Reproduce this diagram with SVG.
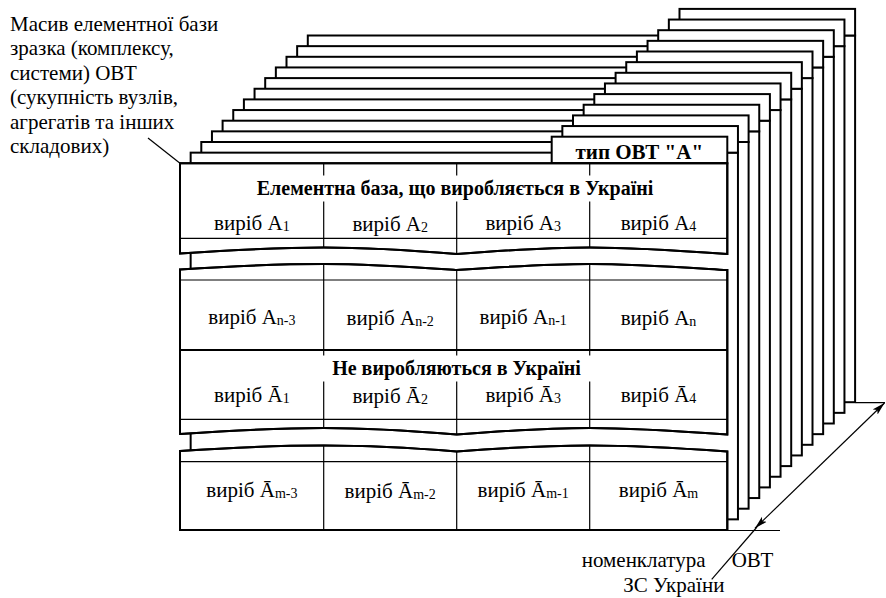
<svg xmlns="http://www.w3.org/2000/svg" xmlns:xlink="http://www.w3.org/1999/xlink" width="886" height="598" viewBox="0 0 886 598">
  <style>
    .fr { fill: #fff; stroke: #000; stroke-width: 2; stroke-linejoin: miter; }
    .ln { fill: none; stroke: #000; stroke-width: 1.2; }
    .lnb { fill: none; stroke: #000; stroke-width: 2; }
    .bg { fill: #fff; stroke: none; }
    .tx { font-family: 'Liberation Serif', Tinos, 'Nimbus Roman', 'Noto Serif', 'DejaVu Serif Condensed', 'DejaVu Serif', serif; font-size: 21px; font-weight: 400; font-style: normal; fill: #000; }
    .cell { text-anchor: middle; }
    .hd { font-weight: 700; font-size: 20px; text-anchor: middle; }
    .sub { font-size: 14px; }
    .con { fill: none; stroke: #000; stroke-width: 1.2; }
  </style>
  <defs>
    <!-- one sheet of the stack: body plus raised tab on the right -->
    <g id="sheet">
      <rect class="fr" x="180" y="163.3" width="547.3" height="366.7"/>
      <rect class="fr" x="551.7" y="136.7" width="175.6" height="26.6"/>
    </g>
    <!-- front sheet split into three blocks by break lines -->
    <path id="blkA" d="M727.3,163.3 H180 V253.5 C225,250.5 280,247.5 323.7,247.5 C370,247.5 420,251 456.7,254 C495,251 545,247.5 589.7,247.5 C635,247.5 685,251 727.3,254 Z"/>
    <path id="blkB" d="M180,269.5 C225,266.5 280,264 323.7,264 C370,264 420,267.5 456.7,270 C495,267.5 545,264 589.7,264 C635,264 685,267.5 727.3,270 V434.5 C685,431.5 635,428 589.7,428 C545,428 495,431.5 456.7,434.5 C420,431.5 370,428 323.7,428 C280,428 225,431 180,434 Z"/>
    <path id="blkC" d="M180,451 C225,448 280,445.5 323.7,445.5 C370,445.5 420,448.5 456.7,451.5 C495,448.5 545,445.5 589.7,445.5 C635,445.5 685,448.5 727.3,451.5 V530 H180 Z"/>
    <clipPath id="clipA"><use xlink:href="#blkA"/></clipPath>
    <clipPath id="clipB"><use xlink:href="#blkB"/></clipPath>
    <clipPath id="clipC"><use xlink:href="#blkC"/></clipPath>
    <marker id="arr" markerUnits="userSpaceOnUse" markerWidth="14" markerHeight="8" refX="13" refY="4" orient="auto-start-reverse">
      <path d="M0,0.5 L13,4 L0,7.5 L3,4 Z" fill="#000"/>
    </marker>
  </defs>

  <!-- stacked sheets, back to front -->
  <g id="stack">
    <g id="sheet-12"><use xlink:href="#sheet" transform="translate(127.8,-127.8)"/></g>
    <g id="sheet-11"><use xlink:href="#sheet" transform="translate(117.15,-117.15)"/></g>
    <g id="sheet-10"><use xlink:href="#sheet" transform="translate(106.5,-106.5)"/></g>
    <g id="sheet-9"><use xlink:href="#sheet" transform="translate(95.85,-95.85)"/></g>
    <g id="sheet-8"><use xlink:href="#sheet" transform="translate(85.2,-85.2)"/></g>
    <g id="sheet-7"><use xlink:href="#sheet" transform="translate(74.55,-74.55)"/></g>
    <g id="sheet-6"><use xlink:href="#sheet" transform="translate(63.9,-63.9)"/></g>
    <g id="sheet-5"><use xlink:href="#sheet" transform="translate(53.25,-53.25)"/></g>
    <g id="sheet-4"><use xlink:href="#sheet" transform="translate(42.6,-42.6)"/></g>
    <g id="sheet-3"><use xlink:href="#sheet" transform="translate(31.95,-31.95)"/></g>
    <g id="sheet-2"><use xlink:href="#sheet" transform="translate(21.3,-21.3)"/></g>
    <g id="sheet-1"><use xlink:href="#sheet" transform="translate(10.65,-10.65)"/></g>
  </g>

  <!-- front sheet -->
  <g id="front-sheet">
    <g id="tab">
      <rect class="fr" x="551.7" y="136.7" width="175.6" height="26.6"/>
      <text class="tx hd" x="639.3" y="159.3" style="font-size:21px">тип ОВТ "А"</text>
    </g>

    <g id="block-made">
      <use xlink:href="#blkA" class="fr"/>
      <g clip-path="url(#clipA)">
        <path class="ln" d="M323.7,163.3 V262 M456.7,163.3 V262 M589.7,163.3 V262 M180,238.3 H727.3"/>
        <rect class="bg" x="240" y="175.5" width="432" height="26"/>
      </g>
      <use xlink:href="#blkA" class="lnb"/>
      <text class="tx hd" x="455" y="195">Елементна база, що виробляється в Україні</text>
      <text class="tx cell" x="251.9" y="230">виріб A<tspan class="sub" dy="1">1</tspan></text>
      <text class="tx cell" x="390.2" y="231">виріб A<tspan class="sub" dy="1">2</tspan></text>
      <text class="tx cell" x="523.2" y="230">виріб A<tspan class="sub" dy="1">3</tspan></text>
      <text class="tx cell" x="658.5" y="230">виріб A<tspan class="sub" dy="1">4</tspan></text>
    </g>

    <g id="block-mid">
      <use xlink:href="#blkB" class="fr"/>
      <g clip-path="url(#clipB)">
        <path class="ln" d="M323.7,260 V440 M456.7,260 V440 M589.7,260 V440 M180,280 H727.3 M180,419.3 H727.3"/>
        <path class="lnb" d="M180,350 H727.3"/>
        <rect class="bg" x="305" y="355.5" width="300" height="26"/>
      </g>
      <use xlink:href="#blkB" class="lnb"/>
      <text class="tx cell" x="251.9" y="324">виріб A<tspan class="sub" dy="1">n-3</tspan></text>
      <text class="tx cell" x="390.2" y="325">виріб A<tspan class="sub" dy="1">n-2</tspan></text>
      <text class="tx cell" x="523.2" y="324">виріб A<tspan class="sub" dy="1">n-1</tspan></text>
      <text class="tx cell" x="658.5" y="325">виріб A<tspan class="sub" dy="1">n</tspan></text>
      <text class="tx hd" x="456.5" y="375">Не виробляються в Україні</text>
      <text class="tx cell" x="251.9" y="402">виріб Ā<tspan class="sub" dy="1">1</tspan></text>
      <text class="tx cell" x="390.2" y="403">виріб Ā<tspan class="sub" dy="1">2</tspan></text>
      <text class="tx cell" x="523.2" y="402">виріб Ā<tspan class="sub" dy="1">3</tspan></text>
      <text class="tx cell" x="658.5" y="402">виріб Ā<tspan class="sub" dy="1">4</tspan></text>
    </g>

    <g id="block-not-made">
      <use xlink:href="#blkC" class="fr"/>
      <g clip-path="url(#clipC)">
        <path class="ln" d="M323.7,440 V530 M456.7,440 V530 M589.7,440 V530 M180,461.7 H727.3"/>
      </g>
      <use xlink:href="#blkC" class="lnb"/>
      <text class="tx cell" x="251.9" y="497">виріб Ā<tspan class="sub" dy="1">m-3</tspan></text>
      <text class="tx cell" x="390.2" y="498">виріб Ā<tspan class="sub" dy="1">m-2</tspan></text>
      <text class="tx cell" x="523.2" y="497">виріб Ā<tspan class="sub" dy="1">m-1</tspan></text>
      <text class="tx cell" x="658.5" y="497">виріб Ā<tspan class="sub" dy="1">m</tspan></text>
    </g>
  </g>

  <!-- captions -->
  <g id="array-caption">
    <text class="tx" x="10" y="30.7">Масив елементної бази</text>
    <text class="tx" x="10" y="55.2">зразка (комплексу,</text>
    <text class="tx" x="10" y="79.7">системи) ОВТ</text>
    <text class="tx" x="10" y="104.2">(сукупність вузлів,</text>
    <text class="tx" x="10" y="128.7">агрегатів та інших</text>
    <text class="tx" x="10" y="153.2">складових)</text>
  </g>
  <g id="nomenclature-caption">
    <text class="tx" y="566.7"><tspan x="581.7">номенклатура</tspan><tspan x="731.7">ОВТ</tspan></text>
    <text class="tx" x="623.3" y="591.7">ЗС України</text>
  </g>

  <!-- connectors -->
  <g id="connectors">
    <path class="con" d="M148,138 L180,163.3"/>
    <path class="con" d="M727.3,530.5 H780 M855.7,402.7 H885"/>
    <path class="con" d="M755,528.3 L884.5,403" marker-start="url(#arr)" marker-end="url(#arr)"/>
    <path class="con" d="M757,527 L711.7,579.3"/>
  </g>
</svg>
